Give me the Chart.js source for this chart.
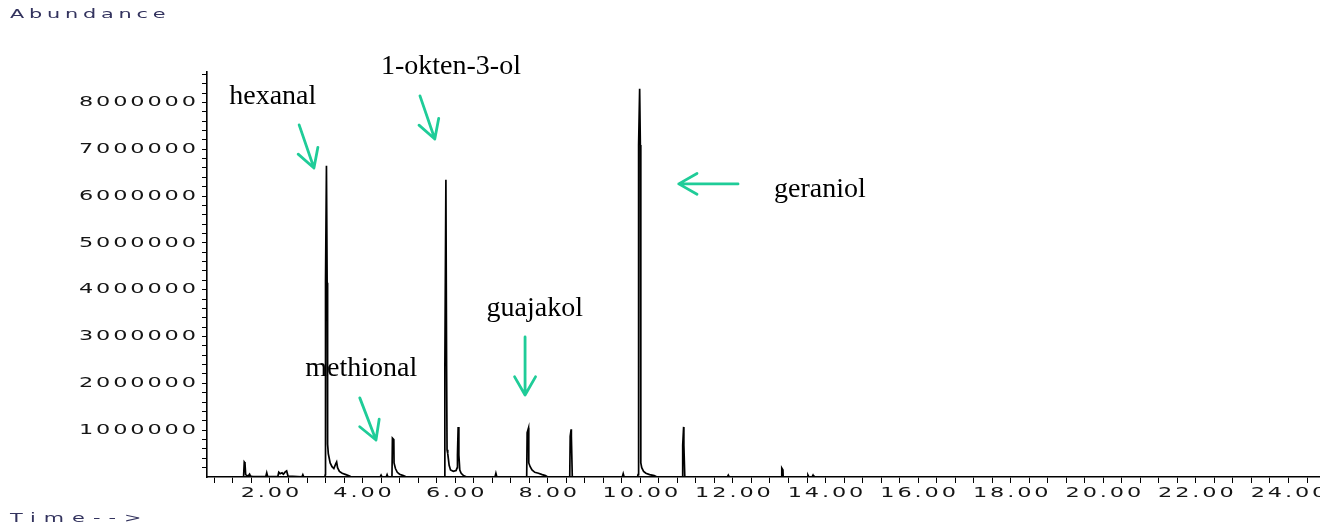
<!DOCTYPE html>
<html><head><meta charset="utf-8">
<script src="https://cdn.jsdelivr.net/npm/chart.js@4.4.1/dist/chart.umd.min.js"></script>
<style>
html,body{margin:0;padding:0;background:#fff;}
#wrap{position:relative;width:1320px;height:525px;overflow:hidden;background:#fff;}
canvas{position:absolute;left:0;top:0;}
.lab{position:absolute;font-family:"DejaVu Sans";font-size:13px;line-height:14px;color:#33335e;letter-spacing:3px;transform:scaleX(1.6);transform-origin:0 50%;white-space:nowrap;}
</style></head><body>
<div id="wrap"><canvas id="c" width="1320" height="525"></canvas>
<div class="lab" style="left:10px;top:7px;">Abundance</div>
<div class="lab" style="left:10px;top:511px;letter-spacing:5px;">Time--&gt;</div>
</div>
<script>
// ---- data (retention time in minutes, abundance in counts) ----
const retentionTimes = [1.35,
 1.43,1.445,1.46,1.475,1.50,1.53,1.56,1.58,1.63,
 1.91,1.93,1.95,
 2.17,2.19,2.22,2.26,2.29,2.33,2.36,2.39,
 2.69,2.71,2.73,
 3.185,3.195,3.20,3.22,3.235,3.245,3.26,3.30,3.34,3.38,3.42,3.44,3.46,3.50,3.56,3.64,3.72,3.76,
 4.38,4.40,4.42,4.51,4.53,4.55,
 4.635,4.645,4.675,4.68,4.71,4.75,4.80,4.88,4.95,
 5.765,5.775,5.78,5.80,5.815,5.825,5.84,5.87,5.90,5.96,6.02,6.045,6.05,6.065,6.08,6.10,6.13,6.18,6.25,
 6.86,6.88,6.90,
 7.545,7.555,7.585,7.59,7.62,7.66,7.72,7.80,7.88,7.95,8.00,
 8.475,8.485,8.505,8.51,8.53,
 9.61,9.63,9.65,
 9.94,9.95,9.955,9.97,9.985,10.00,10.01,10.03,10.07,10.12,10.20,10.30,10.36,
 10.905,10.915,10.935,10.94,10.96,
 11.88,11.90,11.92,
 13.05,13.055,13.08,13.085,
 13.60,13.62,13.64,13.71,13.73,13.75,
 24.68];
const abundance = [0,
 0,320000,300000,50000,30000,20000,60000,20000,10000,
 10000,90000,10000,
 10000,100000,70000,90000,60000,110000,130000,20000,
 5000,50000,0,
 0,50000,4150000,6650000,4150000,700000,500000,300000,220000,180000,280000,320000,200000,120000,80000,50000,20000,0,
 0,40000,0,0,50000,0,
 0,830000,800000,300000,180000,100000,60000,30000,0,
 0,50000,2360000,6350000,2360000,580000,500000,250000,150000,120000,140000,200000,470000,1070000,470000,150000,80000,30000,0,
 0,80000,0,
 0,950000,1050000,300000,220000,150000,100000,80000,50000,30000,0,
 0,870000,1020000,870000,0,
 0,70000,0,
 0,50000,790000,7090000,8290000,7090000,300000,200000,120000,80000,50000,30000,0,
 0,680000,1070000,680000,0,
 0,40000,0,
 0,190000,150000,0,
 0,40000,0,0,40000,0,
 0];

const xTickLabels = ['2.00','4.00','6.00','8.00','10.00','12.00','14.00','16.00','18.00','20.00','22.00','24.00'];
const yTickLabels = ['1000000','2000000','3000000','4000000','5000000','6000000','7000000','8000000'];

// compound annotations (text anchor and arrow in data coordinates)
const compoundNames   = ['hexanal','1-okten-3-ol','methional','guajakol','geraniol'];
const labelTimes      = [2.06, 5.91, 3.97, 7.72, 13.88];
const labelAbundance  = [7970000, 8610000, 2160000, 3440000, 5980000];
const arrowFromTimes  = [2.63, 5.24, 3.94, 7.51, 12.11];
const arrowFromAbund  = [7520000, 8140000, 1690000, 2990000, 6260000];
const arrowToTimes    = [2.95, 5.56, 4.29, 7.51, 10.83];
const arrowToAbund    = [6600000, 7220000, 790000, 1750000, 6260000];

const X_MIN = 0.64, X_MAX = 24.68, Y_MAX = 8650000;
const X_MINOR = 0.4, Y_MINOR = 200000;

function xLabel(v){ const l = xTickLabels.find(s => Math.abs(parseFloat(s) - v) < 1e-6); return l || ''; }
function yLabel(v){ const l = yTickLabels.find(s => Math.abs(parseInt(s,10) - v) < 1e-3); return l || ''; }

function stretchedText(ctx, text, x, y, align){
  const S = 1.6, sp = 1.8;
  ctx.save();
  ctx.letterSpacing = sp + 'px';
  const w = ctx.measureText(text).width - sp;
  ctx.translate(x, y);
  ctx.scale(S, 1);
  ctx.textAlign = 'left';
  const start = align === 'center' ? -w/2 : (align === 'right' ? -w : 0);
  ctx.fillText(text, start, 0);
  ctx.restore();
}

const tickLabelPlugin = {
  id: 'tickLabels',
  afterDraw(chart){
    const ctx = chart.ctx, xs = chart.scales.x, ys = chart.scales.y;
    ctx.save();
    ctx.font = '14px "DejaVu Sans"';
    ctx.fillStyle = '#151515';
    ctx.textBaseline = 'middle';
    xs.ticks.forEach(t => {
      const lab = xLabel(t.value);
      if (lab) stretchedText(ctx, lab, xs.getPixelForValue(t.value), xs.top + 16, 'center');
    });
    ys.ticks.forEach(t => {
      const lab = yLabel(t.value);
      if (lab) stretchedText(ctx, lab, ys.right - 11, ys.getPixelForValue(t.value), 'right');
    });
    ctx.restore();
  }
};

function drawArrow(ctx, x1, y1, x2, y2){
  const a = Math.atan2(y2 - y1, x2 - x1), L = 21, w = 0.52;
  ctx.beginPath();
  ctx.moveTo(x1, y1); ctx.lineTo(x2, y2);
  ctx.moveTo(x2 - L*Math.cos(a - w), y2 - L*Math.sin(a - w));
  ctx.lineTo(x2, y2);
  ctx.lineTo(x2 - L*Math.cos(a + w), y2 - L*Math.sin(a + w));
  ctx.stroke();
}

const annotationPlugin = {
  id: 'compounds',
  afterDraw(chart){
    const ctx = chart.ctx, xs = chart.scales.x, ys = chart.scales.y;
    ctx.save();
    ctx.letterSpacing = '0px';
    ctx.font = '28px "Liberation Serif"';
    ctx.fillStyle = '#000';
    ctx.textAlign = 'center';
    ctx.textBaseline = 'alphabetic';
    compoundNames.forEach((n, i) => {
      ctx.fillText(n, xs.getPixelForValue(labelTimes[i]), ys.getPixelForValue(labelAbundance[i]));
    });
    ctx.strokeStyle = '#1fcc98';
    ctx.lineWidth = 2.8;
    ctx.lineCap = 'round';
    ctx.lineJoin = 'round';
    compoundNames.forEach((n, i) => {
      drawArrow(ctx,
        xs.getPixelForValue(arrowFromTimes[i]), ys.getPixelForValue(arrowFromAbund[i]),
        xs.getPixelForValue(arrowToTimes[i]), ys.getPixelForValue(arrowToAbund[i]));
    });
    ctx.restore();
  }
};

const points = retentionTimes.map((t, i) => ({x: t, y: abundance[i]}));

new Chart(document.getElementById('c'), {
  type: 'line',
  data: { datasets: [{
    data: points,
    borderColor: '#000',
    borderWidth: 1.7,
    pointRadius: 0,
    tension: 0,
    fill: false
  }]},
  options: {
    responsive: false,
    animation: false,
    devicePixelRatio: 1,
    layout: { padding: { left: 0, top: 72, right: 0, bottom: 0 } },
    plugins: { legend: { display: false }, tooltip: { enabled: false } },
    scales: {
      x: {
        type: 'linear', min: X_MIN, max: X_MAX,
        ticks: { display: false, autoSkip: false },
        grid: { display: true, drawOnChartArea: false, drawTicks: true, tickLength: 6, color: '#000', lineWidth: 1 },
        border: { display: true, color: '#000', width: 1.6 },
        afterBuildTicks(s){
          const out = [];
          for (let k = Math.ceil(X_MIN / X_MINOR); k * X_MINOR <= X_MAX; k++) out.push({ value: Math.round(k * X_MINOR * 10) / 10 });
          s.ticks = out;
        },
        afterFit(s){ s.height = 48; }
      },
      y: {
        type: 'linear', min: 0, max: Y_MAX,
        ticks: { display: false, autoSkip: false },
        grid: { display: true, drawOnChartArea: false, drawTicks: true, tickLength: 5, color: '#000', lineWidth: 1 },
        border: { display: true, color: '#000', width: 1.6 },
        afterBuildTicks(s){
          const out = [];
          for (let k = 1; k * Y_MINOR <= Y_MAX; k++) out.push({ value: k * Y_MINOR });
          s.ticks = out;
        },
        afterFit(s){ s.width = 207; }
      }
    }
  },
  plugins: [tickLabelPlugin, annotationPlugin]
});
</script>
</body></html>
